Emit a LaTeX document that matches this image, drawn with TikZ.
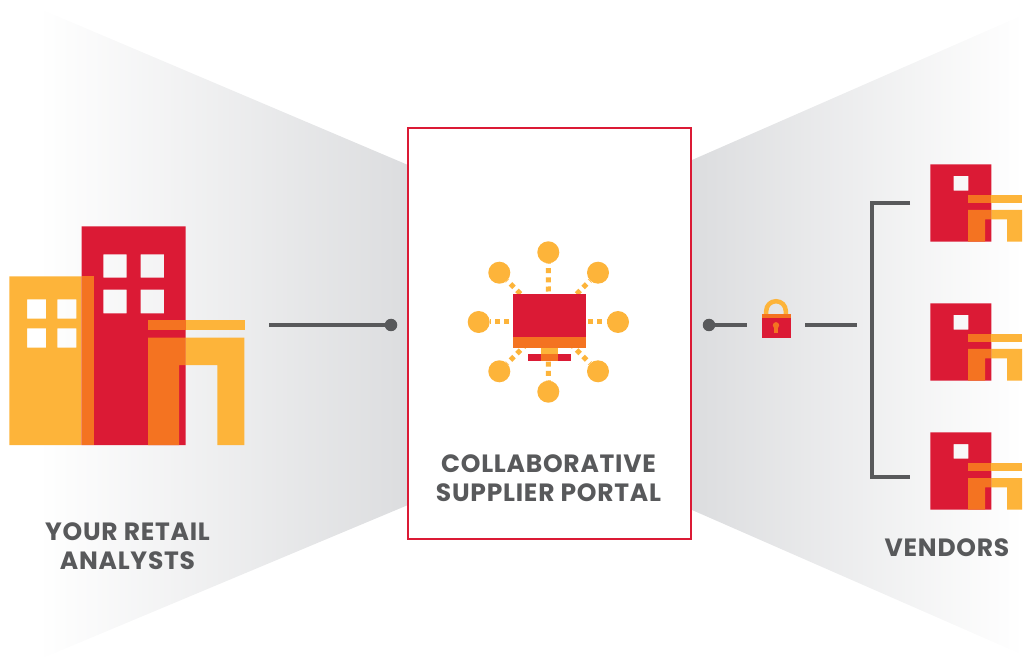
\documentclass[tikz,border=0pt]{standalone}
\usepackage{fontspec}
\setmainfont[LetterSpace=3]{Poppins}
\usetikzlibrary{positioning}
\definecolor{brandred}{HTML}{DB1A35}
\definecolor{brandorange}{HTML}{F47321}
\definecolor{brandyellow}{HTML}{FDB43A}
\definecolor{linegray}{HTML}{58595B}
\definecolor{wedgegray}{HTML}{DCDDDF}
\tikzset{
  wire/.style={draw=linegray,line width=4pt},
  dot/.style={circle,fill=linegray,inner sep=0pt,minimum size=12.5pt},
  sat/.style={circle,fill=brandyellow,inner sep=0pt,minimum size=22pt},
  spoke/.style={draw=brandyellow,line width=5pt,dash pattern=on 5pt off 4.2pt,dash phase=6.3pt},
  caption/.style={text=linegray,font=\fontsize{25}{29}\selectfont\bfseries,align=center},
}
% one small vendor shop, drawn at the position of the first one
\newcommand{\vendorshop}{%
\fill[brandred,even odd rule] (930.3,164.3) rectangle (991.3,241.7) (953.7,176) rectangle (968.3,190.7);
\fill[brandyellow] (991.3,195) rectangle (1022,203);
\fill[brandorange] (968,195) rectangle (991.3,203);
\fill[brandyellow] (991.3,210) -- (1022,210) -- (1022,241.7) -- (1007,241.7) -- (1007,219.3) -- (991.3,219.3) -- cycle;
\fill[brandorange] (968,210) -- (991.3,210) -- (991.3,219.3) -- (985,219.3) -- (985,241.7) -- (968,241.7) -- cycle;
}
\begin{document}
\begin{tikzpicture}[x=1pt,y=-1pt]
\useasboundingbox (0,0) rectangle (1023,660);
% wedges
\shade[left color=white,right color=wedgegray] (38,8) -- (408,165) -- (408,505) -- (38,660) -- cycle;
\shade[left color=wedgegray,right color=white] (692,160) -- (1023,15) -- (1023,655) -- (692,510) -- cycle;
% portal box
\node[draw=brandred,fill=white,line width=2.5pt,minimum width=283pt,minimum height=411pt,inner sep=0pt] (portal) at (549.5,333.5) {};
% big building
\fill[brandyellow,even odd rule] (9.3,276.3) rectangle (81.7,445)
  (27,299.3) rectangle (46,318.7) (57.3,299.3) rectangle (76.3,318.7)
  (27,328.3) rectangle (46,347.7) (57.3,328.3) rectangle (76.3,347.7);
\fill[brandred,even odd rule] (81.7,226.3) rectangle (185.7,445)
  (103.3,254.3) rectangle (126.7,277.7) (140.7,254.3) rectangle (164,277.7)
  (103.3,289.7) rectangle (126.7,313.3) (140.7,289.7) rectangle (164,313.3);
\fill[brandorange] (81.7,276.3) rectangle (93.7,445);
\fill[brandorange] (148,319.7) rectangle (185.7,330);
\fill[brandyellow] (185.7,319.7) rectangle (245,330);
\fill[brandorange] (148,337.7) -- (185.7,337.7) -- (185.7,365) -- (179,365) -- (179,445) -- (148,445) -- cycle;
\fill[brandyellow] (185.7,337.7) -- (244.3,337.7) -- (244.3,445) -- (217.3,445) -- (217.3,365) -- (185.7,365) -- cycle;
% spokes and satellites
\coordinate (C) at (548.5,322);
\node[sat] (S1) at (548.3,252.3) {};
\node[sat] (S2) at (598,272.7) {};
\node[sat] (S3) at (618,322) {};
\node[sat] (S4) at (598,371.3) {};
\node[sat] (S5) at (548.3,391.7) {};
\node[sat] (S6) at (499.3,371.3) {};
\node[sat] (S7) at (478.7,322) {};
\node[sat] (S8) at (499.3,272.7) {};
\draw[spoke] (C)--(S1);
\draw[spoke] (C)--(S2);
\draw[spoke] (C)--(S3);
\draw[spoke] (C)--(S4);
\draw[spoke] (C)--(S5);
\draw[spoke] (C)--(S6);
\draw[spoke] (C)--(S7);
\draw[spoke] (C)--(S8);
% monitor
\fill[brandred] (513,294) rectangle (586,337);
\fill[brandorange] (513,337) rectangle (586,348);
\fill[brandyellow] (541,348) rectangle (558,354);
\fill[brandred] (528,354) rectangle (571,361);
\fill[brandorange] (541,354) rectangle (558,361);
% left connector
\coordinate (L1) at (269,325);
\node[dot] (D1) at (391,325) {};
\draw[wire] (L1)--(D1);
% right connector
\node[dot] (D2) at (709,325) {};
\coordinate (R1) at (746.7,325);
\coordinate (R2) at (805,325);
\coordinate (R3) at (857,325);
\draw[wire] (D2)--(R1);
\draw[wire] (R2)--(R3);
% lock
\draw[brandyellow,line width=4.5pt] (766.2,316) -- (766.2,311) arc (180:360:9.8) -- (785.8,316);
\fill[brandred] (761.7,318) rectangle (790.7,337.7);
\fill[brandorange] (761.7,314) rectangle (790.7,318);
\fill[brandorange] (776,325.3) circle (3.2);
\fill[brandorange] (774,326) rectangle (778,332.7);
% bracket
\coordinate (B1) at (910,203);
\coordinate (B2) at (871.7,203);
\coordinate (B3) at (871.7,477.3);
\coordinate (B4) at (910,477.3);
\draw[wire,line join=miter] (B1)--(B2)--(B3)--(B4);
% vendors
\begin{scope}
\vendorshop
\end{scope}
\begin{scope}[yshift=-139pt]
\vendorshop
\end{scope}
\begin{scope}[yshift=-268pt]
\vendorshop
\end{scope}
% captions
\node[caption] (portaltext) at (548.5,478) {COLLABORATIVE\\SUPPLIER PORTAL};
\node[caption] (retailtext) at (127.5,546) {YOUR RETAIL\\ANALYSTS};
\node[caption] (vendortext) at (947,548) {VENDORS};
\end{tikzpicture}
\end{document}
